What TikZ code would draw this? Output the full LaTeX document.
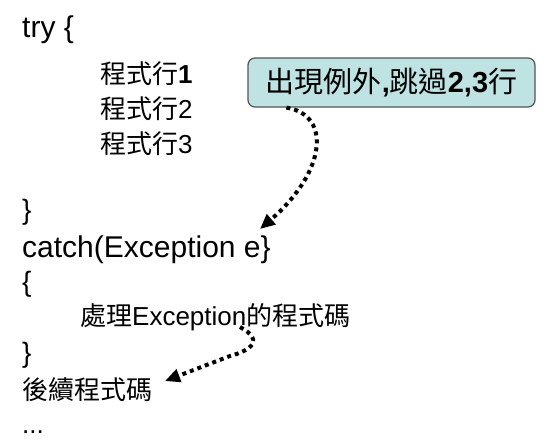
\documentclass[tikz,border=0pt]{standalone}
\usepackage{fontspec}
\setmainfont{Liberation Sans}
\newfontfamily\cjk{Noto Sans CJK TC}
\usepackage{tikz}
\usetikzlibrary{
  arrows.meta,
  positioning,
  calc
}
\usepackage{xcolor}
\definecolor{boxfill}{HTML}{BFE3E3}
\definecolor{boxline}{HTML}{555555}

\begin{document}
\begin{tikzpicture}[
			x=1pt, y=-1pt,
			code/.style={anchor=base west, inner sep=0pt, font=\fontsize{30}{36}\selectfont},
			brace/.style={anchor=base west, inner sep=0pt, font=\fontsize{28}{34}\selectfont},
			stmt/.style={anchor=base west, inner sep=0pt, font=\fontsize{26}{32}\selectfont},
			note/.style={draw=boxline, line width=1.2pt, fill=boxfill, rounded corners=7pt,
				minimum width=287pt, minimum height=49pt, inner sep=0pt,
				font=\fontsize{29}{34}\selectfont\bfseries},
			jump/.style={line width=4pt, dash pattern=on 4pt off 4pt,
				-{Triangle[length=15pt,width=13pt]}}
			]
			\useasboundingbox (0,0) rectangle (549,440);
			% try block
			\node[code] (try) at (22,37) {try \{};
			\node[stmt] (l1) at (100,83) {{\cjk 程式行}\textbf{1}};
			\node[stmt] (l2) at (100,118) {{\cjk 程式行}2};
			\node[stmt] (l3) at (100,153) {{\cjk 程式行}3};
			\node[brace] (c1) at (22,219) {\}};
			% catch block
			\node[code] (catch) at (22,257) {catch(Exception e\}};
			\node[brace] (o2) at (22,291) {\{};
			\node[stmt] (hdl) at (80,325) {{\cjk 處理}Exception{\cjk 的程式碼}};
			\node[brace] (c2) at (22,362) {\}};
			\node[stmt] (after) at (22,399) {\cjk 後續程式碼};
			\node[stmt] (more) at (22,433) {...};
			% exception note
			\node[note] (msg) at (391.5,82.5) {{\cjk\mdseries 出現例外},{\cjk\mdseries 跳過}2,3{\cjk\mdseries 行}};
			% jump ends
			\coordinate (from1) at ([xshift=39pt]msg.south west);
			\coordinate (hit) at (260,229);
			\coordinate (from2) at (240,327);
			\coordinate (skip) at (165,381);
			\draw[jump] (from1) .. controls (332,115) and (326,172) .. (hit);
			\draw[jump] (from2) .. controls (264,340) and (252,350) .. (230,356) -- (skip);
	\end{tikzpicture}
\end{document}
